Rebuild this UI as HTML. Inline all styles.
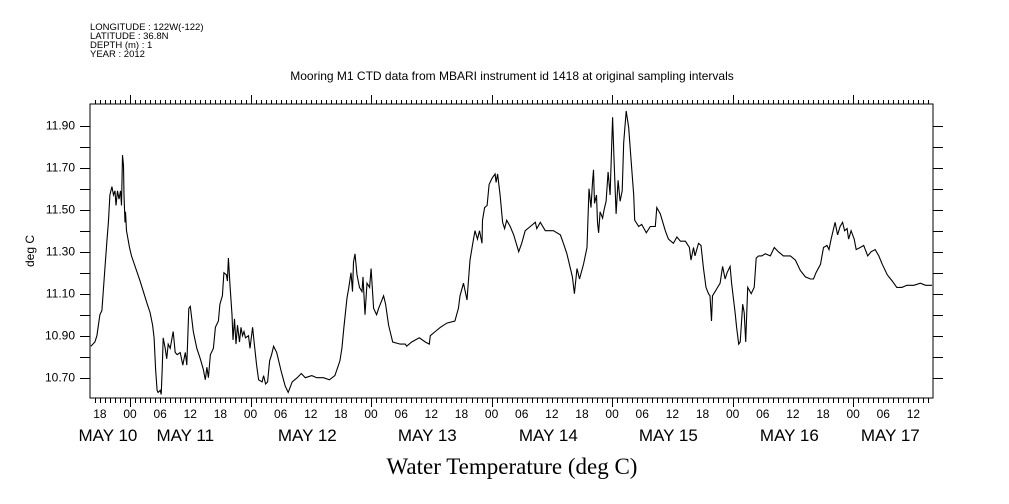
<!DOCTYPE html>
<html><head><meta charset="utf-8"><style>
html,body{margin:0;padding:0;background:#fff;}
svg{display:block;font-family:"Liberation Sans",sans-serif;}
</style></head><body>
<svg id="chart" width="1009" height="504" viewBox="0 0 1009 504" xmlns="http://www.w3.org/2000/svg">
<g font-size="9.5" fill="#000">
<text x="90" y="30">LONGITUDE : 122W(-122)</text>
<text x="90" y="39">LATITUDE : 36.8N</text>
<text x="90" y="48">DEPTH (m) : 1</text>
<text x="90" y="57">YEAR : 2012</text>
</g>
<text x="512" y="80" text-anchor="middle" font-size="12">Mooring M1 CTD data from MBARI instrument id 1418 at original sampling intervals</text>
<text transform="translate(34,251) rotate(-90)" text-anchor="middle" font-size="12">deg C</text>
<text x="512" y="474" text-anchor="middle" font-size="23" font-family="'Liberation Serif',serif">Water Temperature (deg C)</text>
<rect x="90" y="104" width="843" height="294" fill="none" stroke="#000" stroke-width="1"/>
<g id="axes"></g>
<path id="line" fill="none" stroke="#000" stroke-width="1.1"/>
</svg>
<script>
const hours = [-7.8,-7.0,-6.6,-6.0,-5.6,-5.0,-4.6,-4.3,-4.0,-3.6,-3.3,-3.0,-2.8,-2.5,-2.2,-1.9,-1.7,-1.5,-1.3,-1.2,-1.0,-0.9,-0.7,-0.1,0.3,2.0,3.3,4.0,4.5,4.8,5.1,5.4,5.6,6.0,6.2,6.4,6.6,7.0,7.3,7.6,8.0,8.6,9.0,9.4,10.0,10.5,11.0,11.3,11.7,12.0,12.3,12.6,13.3,14.0,14.6,15.0,15.3,15.6,16.0,16.6,17.0,17.6,17.9,18.4,18.7,19.2,19.4,19.6,19.9,20.3,20.5,20.8,21.1,21.4,21.8,22.1,22.4,22.7,23.0,23.6,23.9,24.4,24.7,25.2,25.6,26.3,26.6,27.0,27.4,27.8,28.2,28.6,29.2,30.1,30.9,31.5,32.3,33.3,34.1,34.9,36.2,37.2,38.5,39.7,40.8,41.8,42.2,42.6,43.2,43.5,44.0,44.3,44.5,44.8,45.2,45.7,46.2,46.4,46.8,47.2,47.7,48.0,48.5,49.1,49.5,50.5,50.9,51.5,52.3,53.8,54.8,55.1,56.1,57.6,58.8,59.6,59.8,60.8,61.8,63.1,64.7,65.4,65.7,66.4,67.1,67.7,68.4,68.7,69.2,69.6,70.1,70.2,70.6,71.1,71.5,72.1,72.7,72.9,73.2,73.7,74.2,74.6,75.0,75.7,76.4,77.4,78.0,78.7,79.7,80.7,81.0,81.7,82.7,83.7,84.3,85.7,86.3,87.0,87.6,88.1,88.5,89.0,89.5,90.3,91.0,91.4,91.8,92.1,92.3,92.5,92.9,93.1,93.3,93.6,94.1,94.4,94.8,95.2,95.6,96.1,96.4,96.8,97.2,97.6,98.0,98.3,98.8,99.3,99.7,100.3,100.5,101.3,101.9,102.8,103.6,104.6,104.9,105.6,106.6,107.2,108.2,108.9,109.6,110.6,111.4,111.7,112.2,112.5,113.2,113.7,114.2,114.7,115.2,115.5,115.8,116.0,116.5,117.0,117.5,118.0,118.5,118.9,119.5,119.8,120.5,120.8,121.2,121.5,122.0,122.3,122.6,123.0,123.7,124.3,124.7,125.2,125.8,126.5,127.5,128.3,129.1,130.1,131.5,132.5,133.5,134.5,135.5,136.1,136.6,137.5,138.1,138.8,139.2,139.6,140.1,140.4,140.9,141.4,141.9,142.3,142.8,143.1,143.6,144.2,144.6,145.4,146.1,146.9,147.6,148.4,149.1,149.8,150.8,151.8,152.7,153.7,154.7,156.1,157.4,158.4,159.7];
const temps = [10.85,10.87,10.90,11.00,11.02,11.22,11.35,11.44,11.57,11.61,11.57,11.59,11.52,11.59,11.55,11.59,11.52,11.76,11.71,11.57,11.44,11.49,11.40,11.32,11.28,11.16,11.06,11.01,10.95,10.89,10.74,10.64,10.63,10.64,10.62,10.74,10.89,10.84,10.79,10.86,10.84,10.92,10.82,10.81,10.82,10.76,10.82,10.76,11.03,11.04,10.98,10.92,10.84,10.79,10.74,10.69,10.75,10.70,10.81,10.84,10.94,10.97,11.05,11.09,11.20,11.19,11.16,11.27,11.14,11.00,10.88,10.98,10.86,10.95,10.87,10.94,10.90,10.92,10.89,10.90,10.84,10.94,10.87,10.76,10.69,10.68,10.71,10.67,10.68,10.78,10.81,10.85,10.82,10.73,10.66,10.63,10.68,10.70,10.72,10.70,10.71,10.70,10.70,10.69,10.71,10.78,10.84,10.94,11.08,11.12,11.20,11.11,11.25,11.29,11.19,11.13,11.11,11.18,11.00,11.15,11.13,11.22,11.03,11.00,11.03,11.09,11.05,10.95,10.87,10.86,10.86,10.85,10.87,10.89,10.87,10.86,10.90,10.92,10.94,10.96,10.97,11.03,11.09,11.15,11.07,11.26,11.36,11.40,11.36,11.40,11.34,11.45,11.51,11.52,11.62,11.65,11.67,11.63,11.67,11.57,11.44,11.41,11.45,11.42,11.38,11.30,11.34,11.40,11.42,11.44,11.41,11.44,11.40,11.40,11.40,11.38,11.34,11.29,11.23,11.18,11.10,11.22,11.17,11.24,11.32,11.60,11.51,11.63,11.69,11.53,11.57,11.44,11.39,11.49,11.46,11.50,11.54,11.68,11.57,11.94,11.73,11.48,11.64,11.54,11.59,11.82,11.97,11.89,11.76,11.57,11.45,11.42,11.43,11.39,11.42,11.42,11.51,11.48,11.40,11.36,11.34,11.37,11.35,11.35,11.32,11.26,11.32,11.28,11.34,11.33,11.22,11.13,11.10,11.09,10.97,11.09,11.11,11.13,11.15,11.23,11.17,11.20,11.23,11.15,11.01,10.94,10.86,10.87,11.05,11.01,10.87,11.13,11.10,11.13,11.27,11.28,11.28,11.29,11.28,11.32,11.30,11.28,11.28,11.26,11.21,11.18,11.17,11.17,11.20,11.24,11.32,11.33,11.31,11.36,11.41,11.44,11.38,11.42,11.44,11.40,11.41,11.36,11.40,11.36,11.31,11.32,11.33,11.28,11.30,11.31,11.28,11.24,11.19,11.16,11.13,11.13,11.14,11.14,11.15,11.14,11.14];
const yTickLabels = ["10.70","10.90","11.10","11.30","11.50","11.70","11.90"];
const hourLabels = ["18","00","06","12","18","00","06","12","18","00","06","12","18","00","06","12","18","00","06","12","18","00","06","12","18","00","06","12"];
const hourLabelStart = -6;
const dateLabels = ["MAY 10","MAY 11","MAY 12","MAY 13","MAY 14","MAY 15","MAY 16","MAY 17"];
const dateLabelHours = [-4.4,11,35.3,59.2,83.3,107.2,131.3,151.4];

const X0=90,X1=933,Y0=104,Y1=398;
const H0=-7.97,H1=159.9;
function xs(h){return X0+(h-H0)*(X1-X0)/(H1-H0);}
function ys(v){return 125.7+(11.90-v)*210;}
const NS="http://www.w3.org/2000/svg";
const ax=document.getElementById('axes');
function mk(tag,attrs,parent){const e=document.createElementNS(NS,tag);for(const k in attrs)e.setAttribute(k,attrs[k]);(parent||ax).appendChild(e);return e;}
let d='';
for(let i=0;i<hours.length;i++){d+=(i?'L':'M')+xs(hours[i]).toFixed(1)+' '+ys(temps[i]).toFixed(1);}
document.getElementById('line').setAttribute('d',d);
for(let k=0;k<=13;k++){
  const v=10.60+k*0.1; const y=Math.round(ys(v))+0.5;
  if(y<Y0+2||y>Y1-2)continue;
  const t=mk('line',{x1:80,x2:X0,y1:y,y2:y,stroke:'#000'});
  
  
  const t2=mk('line',{x1:X1,x2:943,y1:y,y2:y,stroke:'#000'});
  
  
}
yTickLabels.forEach(s=>{
  const tx=mk('text',{x:75,y:ys(parseFloat(s))+4,'text-anchor':'end','font-size':12});
  tx.textContent=s;
  
  
});
for(let h=Math.ceil(H0);h<=Math.floor(H1);h++){
  const x=Math.round(xs(h))+0.5; const major=(((h%24)+24)%24===0);
  const b=mk('line',{x1:x,x2:x,y1:Y1,y2:major?407:403,stroke:'#000'});
  
  
  const t=mk('line',{x1:x,x2:x,y1:Y0,y2:major?95:100,stroke:'#000'});
  
  
}
hourLabels.forEach((s,i)=>{
  const tx=mk('text',{x:xs(hourLabelStart+i*6),y:418,'text-anchor':'middle','font-size':12});
  tx.textContent=s;
  
  
});
dateLabels.forEach((s,i)=>{
  const tx=mk('text',{x:xs(dateLabelHours[i]),y:441,'text-anchor':'middle','font-size':17});
  tx.textContent=s;
  
  
});
</script>
</body></html>
